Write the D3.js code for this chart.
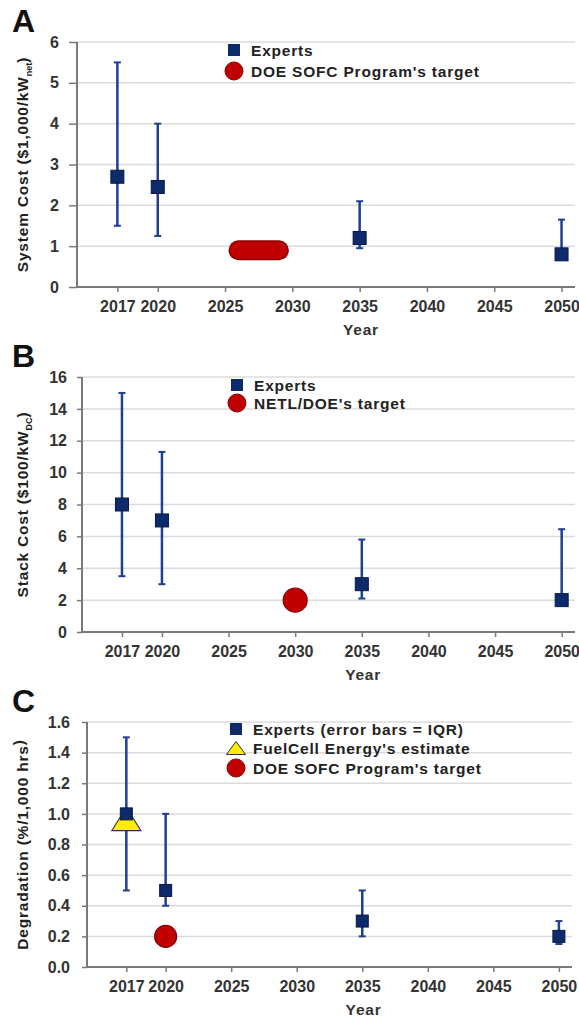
<html lang="en">
<head>
<style>
body { margin: 0; background: #fff; }
text { font-family: "Liberation Sans", Arial, sans-serif; font-weight: bold; }
</style>
</head>
<body>
</body>
<script type='text/javascript' src='https://d3js.org/d3.v7.min.js'></script>
<script>
var width = 579, height = 1017;

// shared
const xTicks = [2017, 2020, 2025, 2030, 2035, 2040, 2045, 2050];
const expertYears = [2017, 2020, 2035, 2050];

// panel A - system cost ($1,000/kW net)
const sysMedian = [2.7, 2.45, 1.2, 0.8];
const sysLow = [1.5, 1.25, 0.95, 0.7];
const sysHigh = [5.5, 4.0, 2.1, 1.65];
const sysTargetYears = [2026, 2027, 2028, 2029];
const sysTargetValues = [0.9, 0.9, 0.9, 0.9];
const sysTicks = [0, 1, 2, 3, 4, 5, 6];

// panel B - stack cost ($100/kW DC)
const stackMedian = [8, 7, 3, 2];
const stackLow = [3.5, 3, 2.1, 2];
const stackHigh = [15, 11.3, 5.8, 6.45];
const stackTargetYears = [2030];
const stackTargetValues = [2];
const stackTicks = [0, 2, 4, 6, 8, 10, 12, 14, 16];

// panel C - degradation (%/1,000 hrs)
const degMedian = [1.0, 0.5, 0.3, 0.2];
const degLow = [0.5, 0.4, 0.2, 0.15];
const degHigh = [1.5, 1.0, 0.5, 0.3];
const fceYears = [2017];
const fceValues = [0.95];
const degTargetYears = [2020];
const degTargetValues = [0.2];
const degTicks = [0, 0.2, 0.4, 0.6, 0.8, 1.0, 1.2, 1.4, 1.6];

var navy = '#0d2a6b', barBlue = '#1f3f8f', red = '#c00000', darkRed = '#8b0000';

var svg = d3.select('body').append('svg').attr('width', width).attr('height', height);

function panel(p) {
  var g = svg.append('g');
  var x = d3.scaleLinear().domain([2014, 2051]).range([p.left, p.right]);
  var y = d3.scaleLinear().domain([0, p.yMax]).range([p.bottom, p.top]);

  // gridlines
  g.selectAll('.grid').data(p.yTicks.slice(1)).join('line')
    .attr('x1', p.left).attr('x2', p.right)
    .attr('y1', d => y(d)).attr('y2', d => y(d))
    .attr('stroke', '#dcdcdc').attr('stroke-width', 1.5);

  var yAxis = g.append('g').attr('transform', 'translate(' + p.left + ',0)')
    .call(d3.axisLeft(y).tickValues(p.yTicks).tickFormat(p.fmt).tickSize(p.tick).tickPadding(p.pad));
  var xAxis = g.append('g').attr('transform', 'translate(0,' + p.bottom + ')')
    .call(d3.axisBottom(x).tickValues(xTicks).tickFormat(d3.format('d')).tickSize(5).tickPadding(9));
  [yAxis, xAxis].forEach(function(a) {
    a.select('.domain').attr('stroke', '#7a7a7a').attr('stroke-width', 2);
    a.selectAll('.tick line').attr('stroke', '#7a7a7a').attr('stroke-width', 1.5);
    a.selectAll('.tick text').attr('fill', '#333').style('font-size', '16px')
      .style('font-family', '"Liberation Sans", Arial, sans-serif').style('font-weight', 'bold');
  });
  yAxis.select('.domain').attr('d', 'M0,' + (p.bottom + 0.5) + 'V' + p.top);
  xAxis.select('.domain').attr('d', 'M' + p.left + ',0H' + p.right);

  // panel letter
  g.append('text').attr('x', 12).attr('y', p.top - 10).attr('font-size', 32).attr('fill', '#111').text(p.letter);

  // y title
  var yt = g.append('text')
    .attr('transform', 'translate(28,' + ((p.top + p.bottom) / 2) + ') rotate(-90)')
    .attr('text-anchor', 'middle').attr('font-size', 15.5).attr('letter-spacing', 0.8).attr('fill', '#222');
  yt.append('tspan').text(p.yTitle[0]);
  yt.append('tspan').attr('font-size', 9).attr('letter-spacing', 0).attr('dy', 4).text(p.yTitle[1]);
  yt.append('tspan').attr('dy', -4).text(')');

  // x title
  g.append('text').attr('x', x(2035.1)).attr('y', p.bottom + 48)
    .attr('text-anchor', 'middle').attr('font-size', 15.5).attr('letter-spacing', 0.8)
    .attr('fill', '#333').text('Year');

  // targets / extra markers drawn beneath experts
  if (p.pill) {
    var line = d3.line().x(d => x(d[0])).y(d => y(d[1]));
    var pts = d3.zip(p.pill[0], p.pill[1]);
    g.append('path').attr('d', line(pts)).attr('stroke', darkRed).attr('stroke-width', 20)
      .attr('stroke-linecap', 'round').attr('fill', 'none');
    g.append('path').attr('d', line(pts)).attr('stroke', red).attr('stroke-width', 17)
      .attr('stroke-linecap', 'round').attr('fill', 'none');
  }

  // error bars
  var eb = d3.zip(expertYears, p.med, p.lo, p.hi);
  g.selectAll('.eb').data(eb).join('line')
    .attr('x1', d => x(d[0])).attr('x2', d => x(d[0]))
    .attr('y1', d => y(d[2])).attr('y2', d => y(d[3]))
    .attr('stroke', barBlue).attr('stroke-width', 2.5);
  ['lo', 'hi'].forEach(function(k, i) {
    g.selectAll('.cap' + k).data(eb).join('line')
      .attr('x1', d => x(d[0]) - 3.5).attr('x2', d => x(d[0]) + 3.5)
      .attr('y1', d => y(d[2 + i])).attr('y2', d => y(d[2 + i]))
      .attr('stroke', barBlue).attr('stroke-width', 2);
  });

  if (p.tri) {
    g.selectAll('.tri').data(d3.zip(p.tri[0], p.tri[1])).join('path')
      .attr('d', d => 'M' + x(d[0]) + ',' + (y(d[1]) - 14) + 'l14.5,23h-29z')
      .attr('fill', '#ffee00').attr('stroke', '#333').attr('stroke-width', 1.2);
  }

  var s = p.sq;
  g.selectAll('.sq').data(eb).join('rect')
    .attr('x', d => x(d[0]) - s / 2).attr('y', d => y(d[1]) - s / 2)
    .attr('width', s).attr('height', s).attr('fill', navy)
    .attr('stroke', '#061a48').attr('stroke-width', 1);

  if (p.dot) {
    g.selectAll('.dot').data(d3.zip(p.dot[0], p.dot[1])).join('circle')
      .attr('cx', d => x(d[0])).attr('cy', d => y(d[1])).attr('r', p.dotR)
      .attr('fill', red).attr('stroke', darkRed).attr('stroke-width', 1.2);
  }

  // legend
  var lg = g.append('g').attr('transform', 'translate(' + p.legX + ',' + p.legY + ')');
  p.legend.forEach(function(item, i) {
    var cy = i * p.legStep;
    if (item.type === 'sq') {
      lg.append('rect').attr('x', -6).attr('y', cy - 6).attr('width', 12).attr('height', 12)
        .attr('fill', navy);
    } else if (item.type === 'tri') {
      lg.append('path').attr('d', 'M0,' + (cy - 7) + 'l9.5,13h-19z')
        .attr('fill', '#ffee00').attr('stroke', '#333').attr('stroke-width', 1);
    } else {
      lg.append('circle').attr('cx', 0).attr('cy', cy).attr('r', 9)
        .attr('fill', red).attr('stroke', darkRed).attr('stroke-width', 1);
    }
    lg.append('text').attr('x', 17).attr('y', cy + 5.5).attr('font-size', 15.5)
      .attr('letter-spacing', 0.8).attr('fill', '#222').text(item.label);
  });
}

panel({
  letter: 'A', top: 42, bottom: 287, left: 77, right: 575, yMax: 6, yTicks: sysTicks,
  fmt: d3.format('d'), tick: 8, pad: 10, yTitle: ['System Cost ($1,000/kW', 'net'],
  med: sysMedian, lo: sysLow, hi: sysHigh, sq: 13,
  pill: [sysTargetYears, sysTargetValues],
  legX: 234, legY: 50, legStep: 21,
  legend: [{type: 'sq', label: 'Experts'}, {type: 'dot', label: "DOE SOFC Program's target"}]
});

panel({
  letter: 'B', top: 377, bottom: 632, left: 82, right: 575, yMax: 16, yTicks: stackTicks,
  fmt: d3.format('d'), tick: 5, pad: 10, yTitle: ['Stack Cost ($100/kW', 'DC'],
  med: stackMedian, lo: stackLow, hi: stackHigh, sq: 13,
  dot: [stackTargetYears, stackTargetValues], dotR: 12,
  legX: 237, legY: 385, legStep: 18,
  legend: [{type: 'sq', label: 'Experts'}, {type: 'dot', label: "NETL/DOE's target"}]
});

panel({
  letter: 'C', top: 722, bottom: 967, left: 87, right: 572, yMax: 1.6, yTicks: degTicks,
  fmt: d3.format('.1f'), tick: 5, pad: 12, yTitle: ['Degradation (%/1,000 hrs', ''],
  med: degMedian, lo: degLow, hi: degHigh, sq: 12,
  tri: [fceYears, fceValues],
  dot: [degTargetYears, degTargetValues], dotR: 11,
  legX: 236, legY: 729, legStep: 19.5,
  legend: [{type: 'sq', label: 'Experts (error bars = IQR)'}, {type: 'tri', label: "FuelCell Energy's estimate"},
           {type: 'dot', label: "DOE SOFC Program's target"}]
});
</script>
</html>
